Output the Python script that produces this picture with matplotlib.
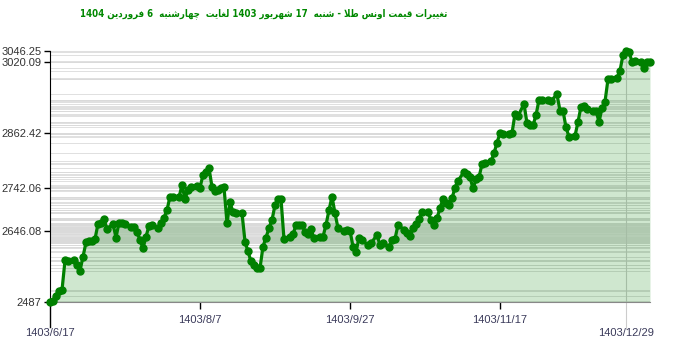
import matplotlib
matplotlib.use("Agg")
import matplotlib.pyplot as plt

title_text = "تغییرات قیمت اونس طلا - شنبه  17 شهریور 1403 لغایت  چهارشنبه  6 فروردین 1404"

# day offset from 1403/6/17 and ounce price
days = [0, 1, 2, 3, 4, 5, 6, 8, 9, 10, 11, 12, 13, 14, 15, 16, 17, 18, 19, 21,
        22, 23, 24, 25, 27, 28, 29, 30, 31, 32, 33, 34, 36, 37, 38, 39, 40, 41, 43, 44,
        45, 46, 47, 49, 50, 51, 52, 53, 54, 55, 56, 57, 58, 59, 60, 61, 62, 64, 65, 66,
        67, 68, 69, 70, 71, 72, 73, 74, 75, 76, 77, 78, 80, 81, 82, 83, 84, 85, 86, 87,
        88, 90, 91, 92, 93, 94, 95, 96, 98, 99, 100, 101, 102, 103, 104, 106, 107, 109, 110, 111,
        113, 114, 115, 116, 118, 119, 120, 121, 122, 123, 124, 126, 127, 128, 129, 130, 131, 132, 133, 134,
        135, 136, 138, 139, 140, 141, 142, 143, 144, 145, 147, 148, 149, 150, 151, 153, 154, 155, 156, 158,
        159, 160, 161, 162, 163, 164, 166, 167, 169, 170, 171, 172, 173, 175, 176, 177, 178, 179, 181, 182,
        183, 184, 185, 186, 187, 189, 190, 191, 192, 193, 194, 195, 197, 198, 199, 200]
prices = [2487, 2490, 2502, 2513, 2514, 2580, 2579, 2581, 2570, 2557, 2588, 2620, 2623, 2624, 2628, 2661, 2664, 2672, 2650, 2661,
          2631, 2664, 2663, 2660, 2655, 2655, 2644, 2625, 2607, 2633, 2657, 2659, 2653, 2663, 2675, 2692, 2722, 2722, 2720, 2748,
          2716, 2737, 2743, 2746, 2742.06, 2770, 2777, 2785, 2744, 2734, 2737, 2740, 2743, 2663, 2709, 2688, 2685, 2685, 2622, 2600,
          2578, 2570, 2563, 2563, 2611, 2631, 2652, 2670, 2703, 2717, 2717, 2627, 2633, 2638, 2659, 2659, 2659, 2644, 2638, 2650,
          2629, 2633, 2633, 2659, 2692, 2722, 2685, 2652, 2646, 2648, 2646.08, 2611, 2598, 2631, 2625, 2614, 2618, 2637, 2614, 2618,
          2611, 2625, 2628, 2659, 2648, 2640, 2634, 2652, 2660, 2672, 2688, 2687, 2670, 2659, 2674, 2696, 2717, 2707, 2703, 2718,
          2742, 2757, 2777, 2772, 2765, 2740, 2760, 2765, 2794, 2797, 2800, 2818, 2842, 2862.42, 2860, 2861, 2863, 2906, 2901, 2928,
          2885, 2880, 2880, 2903, 2937, 2937, 2937, 2935, 2949, 2913, 2913, 2876, 2855, 2857, 2888, 2922, 2924, 2917, 2913, 2913,
          2888, 2918, 2933, 2983, 2983, 2986, 3002, 3037, 3046.25, 3044, 3022, 3024, 3022, 3007, 3022, 3020.09]

xtick_days = [0, 50, 100, 150, 192]
xtick_labels = ["1403/6/17", "1403/8/7", "1403/9/27", "1403/11/17", "1403/12/29"]
ytick_vals = [2487, 2646.08, 2742.06, 2862.42, 3020.09, 3046.25]
ytick_labels = ["2487", "2646.08", "2742.06", "2862.42", "3020.09", "3046.25"]

# isolated, final, initial, medial presentation forms
FORMS = {
    "ا": "\ufe8d\ufe8e", "آ": "\ufe81\ufe82", "د": "\ufea9\ufeaa", "ذ": "\ufeab\ufeac",
    "ر": "\ufead\ufeae", "ز": "\ufeaf\ufeb0", "ژ": "\ufb8a\ufb8b", "و": "\ufeed\ufeee",
    "ب": "\ufe8f\ufe90\ufe91\ufe92", "ت": "\ufe95\ufe96\ufe97\ufe98", "ج": "\ufe9d\ufe9e\ufe9f\ufea0",
    "س": "\ufeb1\ufeb2\ufeb3\ufeb4", "ش": "\ufeb5\ufeb6\ufeb7\ufeb8", "ط": "\ufec1\ufec2\ufec3\ufec4",
    "ع": "\ufec9\ufeca\ufecb\ufecc", "غ": "\ufecd\ufece\ufecf\ufed0", "ف": "\ufed1\ufed2\ufed3\ufed4",
    "ق": "\ufed5\ufed6\ufed7\ufed8", "ل": "\ufedd\ufede\ufedf\ufee0", "م": "\ufee1\ufee2\ufee3\ufee4",
    "ن": "\ufee5\ufee6\ufee7\ufee8", "ه": "\ufee9\ufeea\ufeeb\ufeec", "ی": "\ufbfc\ufbfd\ufbfe\ufbff",
    "چ": "\ufb7a\ufb7b\ufb7c\ufb7d", "پ": "\ufb56\ufb57\ufb58\ufb59", "ک": "\ufb8e\ufb8f\ufb90\ufb91",
    "گ": "\ufb92\ufb93\ufb94\ufb95",
}
RIGHT_ONLY = set("اآدذرزژو")


def shape_word(word):
    out = []
    i = 0
    while i < len(word):
        ch = word[i]
        if ch not in FORMS:
            out.append(ch)
            i += 1
            continue
        prev = word[i - 1] if i > 0 else ""
        joins_prev = prev in FORMS and prev not in RIGHT_ONLY
        if ch == "ل" and i + 1 < len(word) and word[i + 1] == "ا":
            out.append("\ufefc" if joins_prev else "\ufefb")
            i += 2
            continue
        nxt = word[i + 1] if i + 1 < len(word) else ""
        joins_next = ch not in RIGHT_ONLY and nxt in FORMS
        f = FORMS[ch]
        if joins_prev and joins_next:
            out.append(f[3])
        elif joins_prev:
            out.append(f[1])
        elif joins_next:
            out.append(f[2])
        else:
            out.append(f[0])
        i += 1
    return "".join(out)


def visual(text):
    words = []
    for w in text.split(" "):
        if any(c in FORMS for c in w):
            words.append(shape_word(w)[::-1])
        else:
            words.append(w)
    return " ".join(reversed(words))


fig = plt.figure(figsize=(7, 3.52), dpi=100)
ax = fig.add_axes([50 / 700, 49.7 / 352, 600 / 700, 251.6 / 352])

for v in prices:
    ax.axhline(v, color="#dadada", lw=0.6, zorder=0)

ax.fill_between(days, prices, 2487, color="#008000", alpha=0.19, lw=0, zorder=1)
ax.plot(days, prices, color="#008000", lw=2.3, marker="o", ms=5.0, zorder=3, clip_on=False)

# last date marker line and extended left tick
xt = ax.get_xaxis_transform()
ax.plot([xtick_days[-1]] * 2, [-0.105, 1], transform=xt, color="#cccccc", lw=0.8, clip_on=False, zorder=0.5)
ax.plot([0, 0], [-0.1, 0], transform=xt, color="black", lw=1, clip_on=False)

ax.set_xlim(0, 200)
ax.set_ylim(2487, 3046.25)

for s in ["top", "right"]:
    ax.spines[s].set_visible(False)
ax.spines["left"].set_color("black")
ax.spines["bottom"].set_color("#888888")

ax.set_xticks(xtick_days[1:4], labels=xtick_labels[1:4])
ax.tick_params(axis="x", length=5, width=1, color="black", labelsize=8,
               labelcolor="#3a3a5a", pad=4)
for d, lab in [(xtick_days[0], xtick_labels[0]), (xtick_days[-1], xtick_labels[-1])]:
    ax.text(d, -0.122, lab, transform=xt, ha="center", va="center",
            fontsize=8, color="#3a3a5a", family="Liberation Sans")

ax.set_yticks(ytick_vals, labels=ytick_labels)
ax.tick_params(axis="y", length=4, width=1, color="black", labelsize=8,
               labelcolor="#333333", pad=2)
for lab in ax.get_xticklabels() + ax.get_yticklabels():
    lab.set_family("Liberation Sans")
for lab in ax.get_yticklabels():
    lab.set_va("center_baseline")

fig.text(264 / 700, 1 - 14 / 352, visual(title_text), ha="center", va="center",
         color="#008800", fontsize=6.9, fontweight="bold", family="DejaVu Sans",
         fontstretch="condensed")

fig.savefig("out.png", dpi=100)
